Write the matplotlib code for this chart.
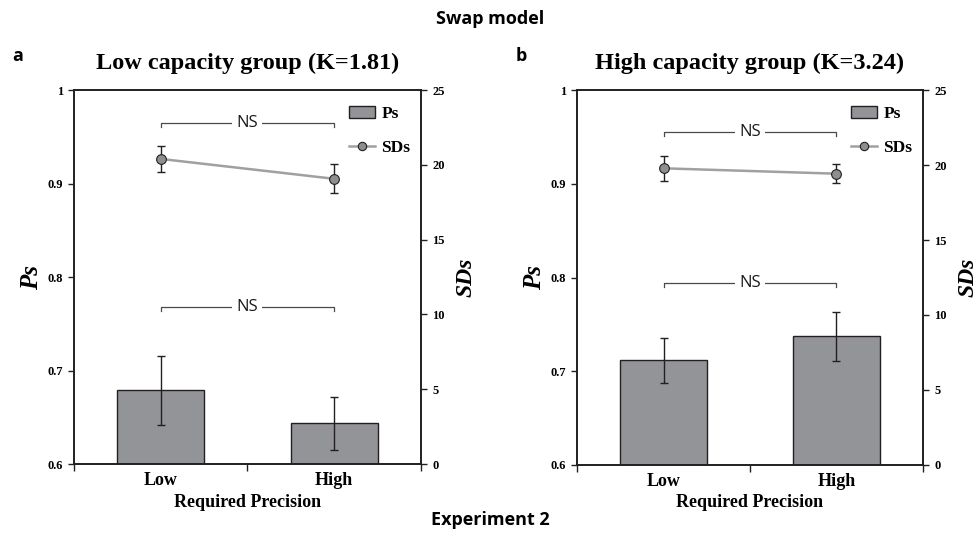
import numpy as np
import matplotlib
matplotlib.use("Agg")
import matplotlib.pyplot as plt
from matplotlib.patches import Patch
from matplotlib.lines import Line2D

# values per group: Low / High required precision
conditions = ["Low", "High"]
group_titles = ["Low capacity group (K=1.81)", "High capacity group (K=3.24)"]
panel_tags = ["a", "b"]

ps_low_cap = [0.679, 0.6435]
ps_low_cap_err = [0.037, 0.028]
sd_low_cap = [20.4, 19.07]
sd_low_cap_err = [0.88, 0.98]

ps_high_cap = [0.7117, 0.7373]
ps_high_cap_err = [0.024, 0.026]
sd_high_cap = [19.78, 19.42]
sd_high_cap_err = [0.83, 0.63]

ps_ticks = [0.6, 0.7, 0.8, 0.9, 1.0]
ps_ticklabels = ["0.6", "0.7", "0.8", "0.9", "1"]
sd_ticks = [0, 5, 10, 15, 20, 25]

serif = "Liberation Serif"
bar_col = "#939497"
edge_col = "#231f20"
line_col = "#a0a0a0"

fig = plt.figure(figsize=(9.8, 5.38), dpi=100)

rects = [[0.0755, 0.1375, 0.354, 0.695], [0.5888, 0.1357, 0.353, 0.697]]
ps_all = [(ps_low_cap, ps_low_cap_err), (ps_high_cap, ps_high_cap_err)]
sd_all = [(sd_low_cap, sd_low_cap_err), (sd_high_cap, sd_high_cap_err)]
# bracket heights (Ps units): SDs comparison, Ps comparison
brackets = [(0.9644, 0.768), (0.955, 0.7938)]
tick_font = dict(fontfamily=serif, fontweight="bold", fontsize=9)

for i in range(2):
    ax = fig.add_axes(rects[i])
    ax2 = ax.twinx()
    x = np.arange(len(conditions))
    ps, ps_err = ps_all[i]
    sd, sd_err = sd_all[i]

    ax.bar(x, np.array(ps) - 0.6, bottom=0.6, width=0.5, color=bar_col,
           edgecolor=edge_col, linewidth=1.0, zorder=2)
    ax.errorbar(x, ps, yerr=ps_err, fmt="none", ecolor=edge_col,
                elinewidth=1.0, capsize=3, capthick=1.0, zorder=3)

    ax2.errorbar(x, sd, yerr=sd_err, fmt="none", ecolor=edge_col,
                 elinewidth=1.0, capsize=3, capthick=1.0, zorder=3)
    ax2.plot(x, sd, color=line_col, lw=1.8, marker="o", ms=7,
             mfc="#8e8e8e", mec=edge_col, mew=0.8, zorder=4)

    ax.set_xlim(-0.5, 1.5)
    ax.set_ylim(0.6, 1.0)
    ax2.set_ylim(0, 25)
    ax.set_yticks(ps_ticks)
    ax.set_yticklabels(ps_ticklabels, **tick_font)
    ax2.set_yticks(sd_ticks)
    ax2.set_yticklabels([str(t) for t in sd_ticks], **tick_font)

    ax.set_xticks(x)
    ax.set_xticklabels(conditions, fontfamily=serif, fontweight="bold",
                       fontsize=13)
    ax.set_xticks([-0.5, 0.5, 1.5], minor=True)
    ax.tick_params(axis="x", which="major", length=0, pad=6)
    ax.tick_params(axis="x", which="minor", length=5, width=1.0,
                   direction="out", color=edge_col)
    for a in (ax, ax2):
        a.tick_params(axis="y", length=4, width=1.0, direction="out",
                      color=edge_col, pad=4)
        for s in a.spines.values():
            s.set_linewidth(1.2)
            s.set_color(edge_col)

    ax.set_xlabel("Required Precision", fontfamily=serif, fontweight="bold",
                  fontsize=13, labelpad=3)
    ax.set_ylabel("Ps", fontfamily=serif, fontweight="bold", style="italic",
                  fontsize=18, labelpad=3)
    ax2.set_ylabel("SDs", fontfamily=serif, fontweight="bold", style="italic",
                   fontsize=17, labelpad=8)
    ax.set_title(group_titles[i], fontfamily=serif, fontweight="bold",
                 fontsize=17.5, pad=15)

    # significance brackets
    for yb in brackets[i]:
        ax.plot([0, 0, 1, 1], [yb - 0.004, yb, yb, yb - 0.004],
                color="#4a4a4a", lw=0.9, zorder=5)
        ax.text(0.5, yb, "NS", ha="center", va="center", fontsize=12,
                fontfamily="Open Sans", color="#1a1a1a", zorder=6,
                bbox=dict(facecolor="white", edgecolor="none", pad=3))

    handles = [Patch(facecolor=bar_col, edgecolor=edge_col, lw=1.0),
               Line2D([], [], color=line_col, lw=1.8, marker="o", ms=6,
                      mfc="#8e8e8e", mec=edge_col, mew=0.8)]
    ax2.legend(handles, ["Ps", "SDs"], loc="upper right", frameon=False,
               prop=dict(family=serif, weight="bold", size=12.5),
               handlelength=1.5, handletextpad=0.4, labelspacing=1.0,
               bbox_to_anchor=(1.0, 0.985), borderaxespad=0.2)

    fig.text(rects[i][0] - 0.057, 0.895, panel_tags[i], fontsize=13,
             fontweight="bold", fontfamily="Open Sans", ha="center",
             va="center")

fig.text(0.5, 0.965, "Swap model", fontsize=13, fontweight="bold",
         fontfamily="Open Sans", ha="center", va="center")
fig.text(0.5, 0.033, "Experiment 2", fontsize=13, fontweight="bold",
         fontfamily="Open Sans", ha="center", va="center")

fig.savefig("out.png", dpi=100, facecolor="white")
